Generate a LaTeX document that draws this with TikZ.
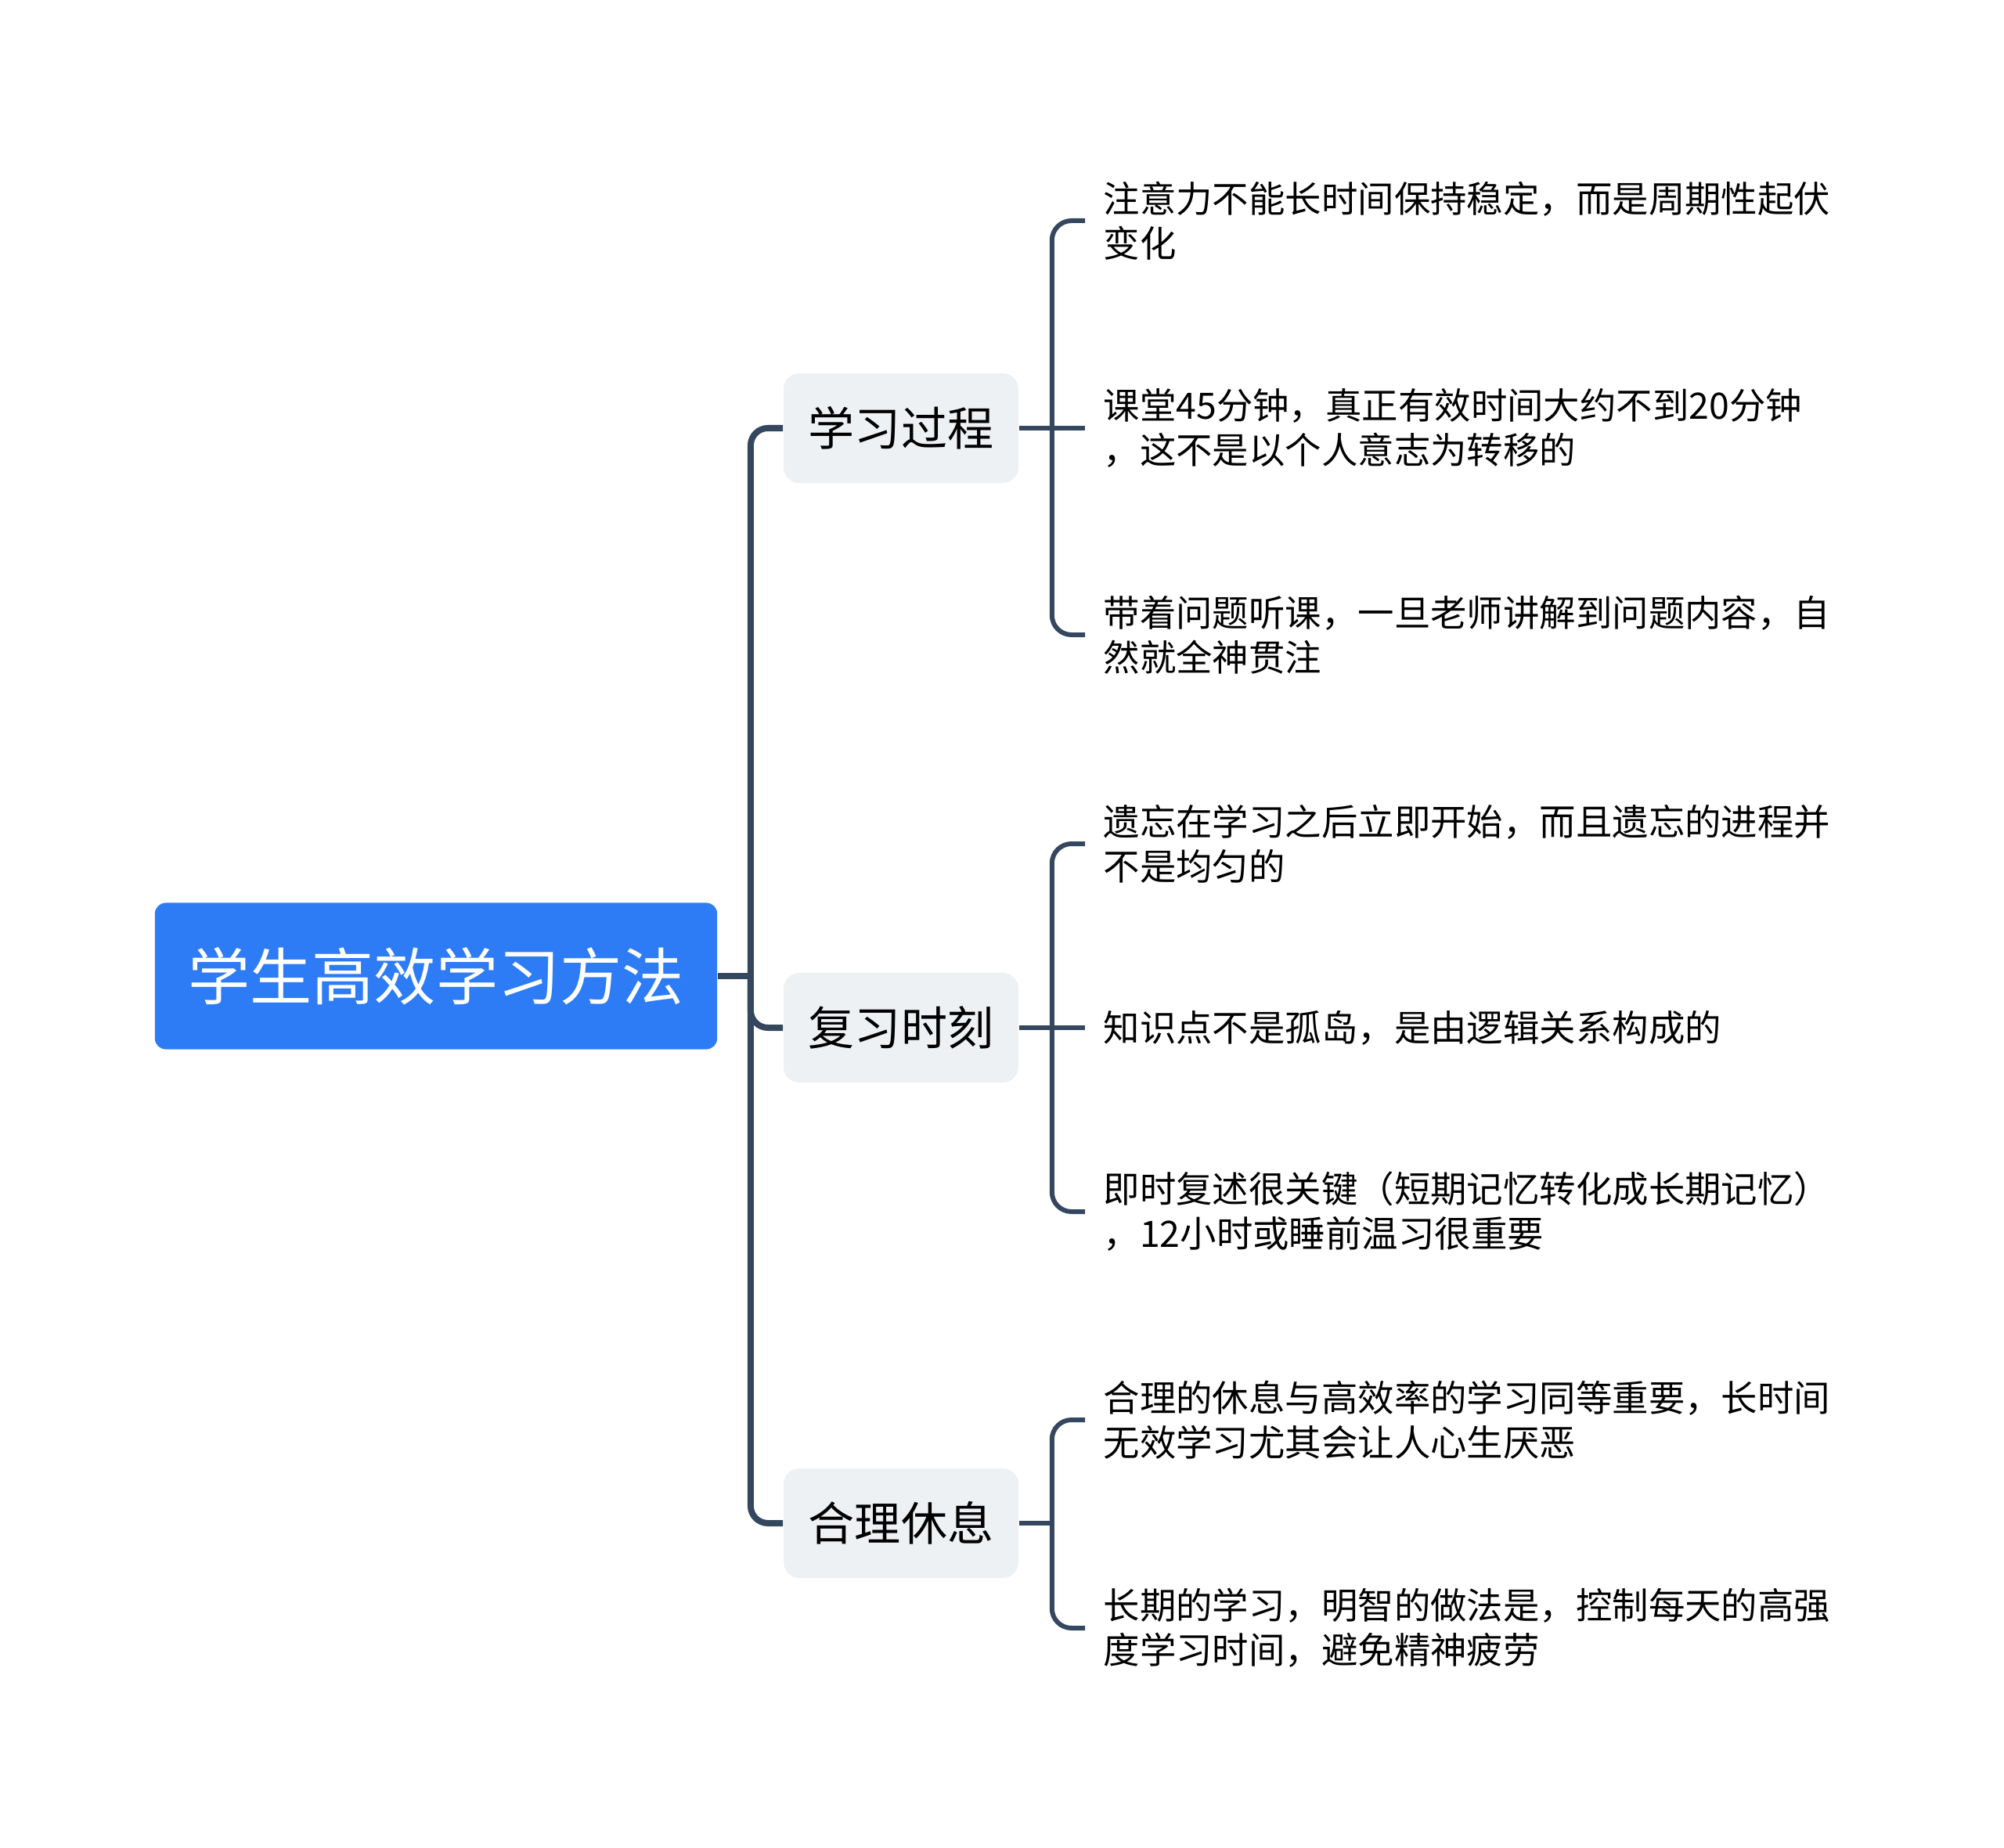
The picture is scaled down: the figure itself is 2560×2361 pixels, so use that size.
\documentclass[tikz,border=0pt]{standalone}
\usepackage{fontspec}
\setmainfont{Noto Sans CJK SC}
\usetikzlibrary{calc}
\definecolor{rootblue}{HTML}{2D7CF6}
\definecolor{subgray}{HTML}{EEF1F4}
\definecolor{linec}{HTML}{34475F}
\tikzset{topic/.style={rounded corners=0.14cm, fill=rootblue, text=white, minimum width=7.18cm, minimum height=1.87cm, inner sep=0pt, font=\fontsize{22.5}{27}\selectfont}}
\tikzset{sub/.style={rounded corners=0.2cm, fill=subgray, minimum width=3cm, minimum height=1.4cm, inner sep=0pt, font=\fontsize{16.8}{20}\selectfont}}
\tikzset{leaf/.style={anchor=west, align=left, inner xsep=0.23cm, inner ysep=0pt, font=\fontsize{13.2}{16.2}\selectfont}}
\tikzset{trunk/.style={draw=linec, line width=0.08cm, rounded corners=0.22cm}}
\tikzset{twig/.style={draw=linec, line width=0.06cm, rounded corners=0.25cm}}

\begin{document}
\begin{tikzpicture}[x=0.01cm, y=-0.01cm]
    \useasboundingbox (0,0) rectangle (2560,2361);

    \node[topic] (root) at (557,1247) {学生高效学习方法};

    \node[sub] (s1) at (1151,547) {学习过程};
    \node[sub] (s2) at (1151,1313) {复习时刻};
    \node[sub] (s3) at (1151,1946) {合理休息};

    \node[leaf] (l11) at (1386,282) {注意力不能长时间保持稳定，而是周期性起伏\\变化};
    \node[leaf] (l12) at (1386,547) {课堂45分钟，真正有效时间大约不到20分钟\\，这不是以个人意志为转移的};
    \node[leaf] (l13) at (1386,811) {带着问题听课，一旦老师讲解到问题内容，自\\然就全神贯注};

    \node[leaf] (l21) at (1386,1078) {遗忘在学习之后立即开始，而且遗忘的进程并\\不是均匀的};
    \node[leaf] (l22) at (1386,1313) {知识点不是孤岛，是由逻辑关系构成的};
    \node[leaf] (l23) at (1386,1548) {即时复述很关键（短期记忆转化成长期记忆）\\，12小时或睡前温习很重要};

    \node[leaf] (l31) at (1386,1814) {合理的休息与高效率的学习同等重要，长时间\\无效学习尤其会让人心生厌恶};
    \node[leaf] (l32) at (1386,2080) {长期的学习，明智的做法是，控制每天的高强\\度学习时间，避免精神疲劳};

    % main trunk
    \coordinate (hub) at ($(root.east)+(42,0)$);
    \draw[trunk] (root.east) -- (hub);
    \draw[trunk] (s1.west) -| (hub) |- (s3.west);
    \draw[trunk] (s2.west) -| (hub);

    % sub trunks
    \coordinate (k1) at ($(s1.east)+(42,0)$);
    \coordinate (k2) at ($(s2.east)+(42,0)$);
    \coordinate (k3) at ($(s3.east)+(42,0)$);

    \draw[twig] (s1.east) -- (l12.west);
    \draw[twig] (l11.west) -| (k1) |- (l13.west);

    \draw[twig] (s2.east) -- (l22.west);
    \draw[twig] (l21.west) -| (k2) |- (l23.west);

    \draw[twig] (s3.east) -- (k3);
    \draw[twig] (l31.west) -| (k3) |- (l32.west);
\end{tikzpicture}
\end{document}
